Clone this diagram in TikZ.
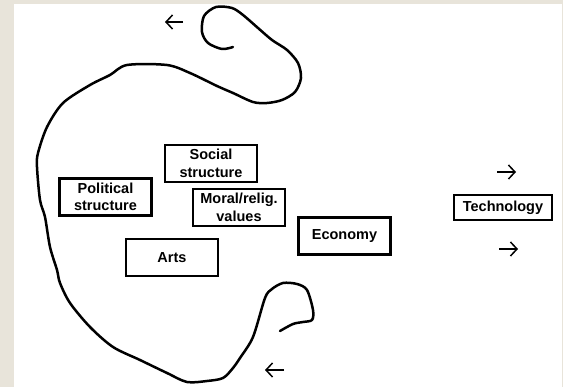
\documentclass[tikz,border=0pt]{standalone}
\usepackage{fontspec}
\setmainfont{Liberation Sans}
\usetikzlibrary{arrows.meta}

\begin{document}
\begin{tikzpicture}[x=1pt,y=-1pt,
  box/.style={draw, line width=2.6pt, minimum width=92pt, minimum height=37pt,
    align=center, inner sep=2pt, font=\bfseries\fontsize{14.5}{17.5}\selectfont},
  loopline/.style={line width=2.5pt, line join=round, line cap=round},
  flow/.style={line width=1.5pt, -{Straight Barb[length=6.5pt,width=14pt]}}]
%% Page
\definecolor{pagebg}{RGB}{232,228,218}
\fill[pagebg] (0,0) rectangle (563,387);
\fill[white] (14,4) rectangle (562,387);
%% Boxes
\node[box] (social) at (211,163.5) {Social\\structure};
\node[box] (political) at (105.5,197) {Political\\structure};
\node[box] (moral) at (239,207.5) {Moral/relig.\\values};
\node[box] (arts) at (172,257.5) {Arts};
\node[box] (economy) at (344.5,236) {Economy};
\node[box, minimum width=98pt, minimum height=25pt] (technology) at (503,207.5) {Technology};
%% Loop round the culture
\draw[loopline] plot[smooth] coordinates {
  (233,47) (222,49) (208,43) (202,32) (204,16) (216,7) (232,8) (243,15)
  (258,28) (272,40) (287,50) (298,63) (301,78) (295,92) (282,100) (267,103)
  (253,102) (233,93) (217,86) (190,73) (167,65) (127,65) (110,75) (90,85)
  (63,103) (47,127) (38,153) (37,167) (40,200) (45,217) (50,247) (57,270)
  (60,283) (70,303) (90,327) (113,347) (140,360) (167,373) (187,382) (207,381)
  (223,378) (233,368) (240,358) (253,337) (265,298) (272,289) (283,283) (297,284)
  (307,290) (313,310) (312,320) (303,322) (293,324) (280,331)};
%% Arrows
\coordinate (topA) at (183,22);   \coordinate (topB) at (165,22);
\coordinate (botA) at (284,370);  \coordinate (botB) at (265,370);
\coordinate (upA) at (497,172);   \coordinate (upB) at (516,172);
\coordinate (lowA) at (499,249);  \coordinate (lowB) at (518,249);
\draw[flow] (topA) -- (topB);
\draw[flow] (botA) -- (botB);
\draw[flow] (upA) -- (upB);
\draw[flow] (lowA) -- (lowB);
\end{tikzpicture}
\end{document}
